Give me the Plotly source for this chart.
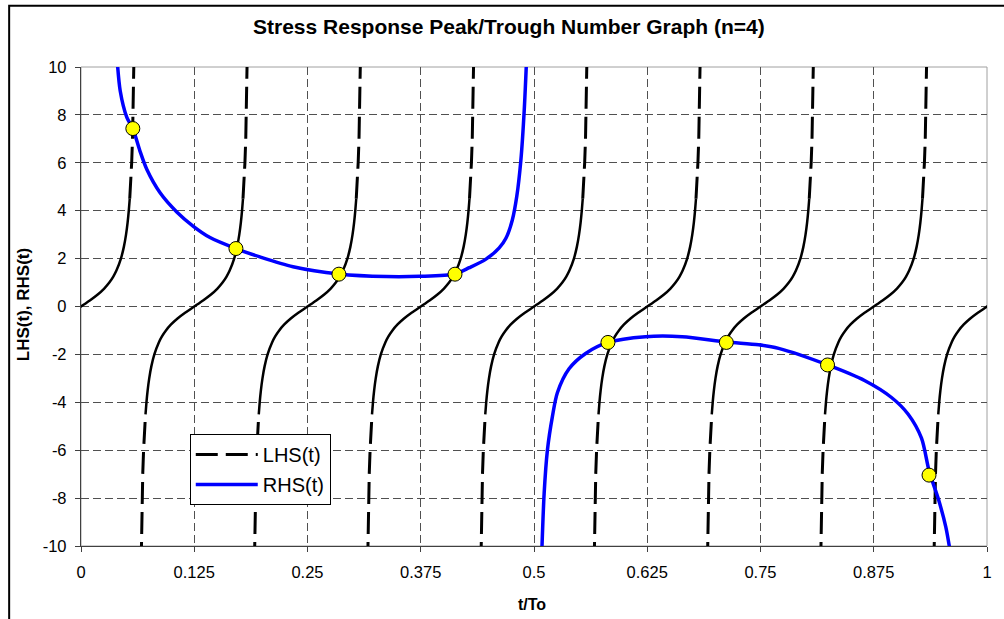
import plotly.graph_objects as go

# ---------------- data ----------------
# LHS(t): eight identical tan-like branches, centred on these t values
lhs_centers = [0.0, 0.125, 0.25, 0.375, 0.5, 0.625, 0.75, 0.875, 1.0]
# one branch: offset from its centre (t) and value, middle (solid-looking) part
lhs_mid_dt = [-0.05380, -0.05275, -0.05143, -0.04970, -0.04736, -0.04405, -0.03910,
              -0.03565, -0.03125, -0.02560, -0.01845, -0.00975, 0.0, 0.00975, 0.01845,
              0.02560, 0.03125, 0.03565, 0.03910, 0.04405, 0.04736, 0.04970, 0.05143,
              0.05275, 0.05380]
lhs_mid_v = [-4.5, -4.0, -3.5, -3.0, -2.5, -2.0, -1.5, -1.25, -1.0, -0.75, -0.5, -0.25,
             0.0, 0.25, 0.5, 0.75, 1.0, 1.25, 1.5, 2.0, 2.5, 3.0, 3.5, 4.0, 4.5]
# steep (dashed-looking) parts near the asymptotes
lhs_up_dt = [0.05380, 0.05465, 0.05593, 0.05685, 0.05755, 0.05810, 0.05853, 0.05919]
lhs_up_v = [4.5, 5.0, 6.0, 7.0, 8.0, 9.0, 10.0, 12.0]
lhs_dn_dt = [-0.05919, -0.05853, -0.05810, -0.05755, -0.05685, -0.05593, -0.05465, -0.05380]
lhs_dn_v = [-12.0, -10.0, -9.0, -8.0, -7.0, -6.0, -5.0, -4.5]

# RHS(t): two branches
rhs1_t = [0.0395, 0.0433, 0.0506, 0.0572, 0.0650, 0.0727, 0.0873, 0.1057, 0.1240, 0.1424,
          0.1710, 0.1974, 0.2340, 0.2847, 0.3369, 0.3736, 0.4128, 0.4286, 0.4470, 0.4616,
          0.4690, 0.4760, 0.4810, 0.4855, 0.4892, 0.4920]
rhs1_v = [10.5, 9.0, 7.9, 7.43, 6.5, 5.72, 4.75, 3.95, 3.35, 2.88,
          2.42, 2.07, 1.66, 1.36, 1.25, 1.26, 1.36, 1.62, 1.98, 2.45,
          2.85, 3.6, 4.6, 6.1, 8.19, 10.5]
rhs2_t = [0.5084, 0.5112, 0.5148, 0.5203, 0.5258, 0.5387, 0.5570, 0.5816, 0.6230, 0.6635,
          0.7123, 0.7480, 0.7700, 0.8240, 0.8653, 0.8946, 0.9130, 0.9277, 0.9363, 0.9460,
          0.9545, 0.9605]
rhs2_v = [-10.5, -7.8, -6.0, -4.6, -3.6, -2.6, -1.96, -1.50, -1.26, -1.26,
          -1.48, -1.60, -1.75, -2.44, -3.10, -3.80, -4.50, -5.50, -6.90, -8.00,
          -9.20, -10.5]

# intersection points
pts_t = [0.0572, 0.1710, 0.2847, 0.4128, 0.5816, 0.7123, 0.8240, 0.9360]
pts_v = [7.43, 2.42, 1.35, 1.35, -1.50, -1.50, -2.44, -7.04]

x_ticks = [0, 0.125, 0.25, 0.375, 0.5, 0.625, 0.75, 0.875, 1]
x_labels = ["0", "0.125", "0.25", "0.375", "0.5", "0.625", "0.75", "0.875", "1"]
y_ticks = [-10, -8, -6, -4, -2, 0, 2, 4, 6, 8, 10]
y_labels = ["-10", "-8", "-6", "-4", "-2", "0", "2", "4", "6", "8", "10"]

# ---------------- build traces ----------------
def branches(dts, vs):
    xs, ys = [], []
    for c in lhs_centers:
        xs += [c + d for d in dts] + [None]
        ys += list(vs) + [None]
    return xs, ys

mid_x, mid_y = branches(lhs_mid_dt, lhs_mid_v)
up_x, up_y = branches(lhs_up_dt, lhs_up_v)
dn_x, dn_y = branches(lhs_dn_dt, lhs_dn_v)
steep_x = up_x + dn_x
steep_y = up_y + dn_y

FONT = "Arial, 'Liberation Sans', sans-serif"

fig = go.Figure()
fig.add_trace(go.Scatter(x=steep_x, y=steep_y, mode="lines", name="LHS(t)",
                         line=dict(color="black", width=3, dash="22px,8px"),
                         legendgroup="lhs", showlegend=True, connectgaps=False))
fig.add_trace(go.Scatter(x=mid_x, y=mid_y, mode="lines", name="LHS(t)",
                         line=dict(color="black", width=2.5, shape="spline", smoothing=0.6),
                         legendgroup="lhs", showlegend=False, connectgaps=False))
fig.add_trace(go.Scatter(x=rhs1_t + [None] + rhs2_t, y=rhs1_v + [None] + rhs2_v,
                         mode="lines", name="RHS(t)",
                         line=dict(color="#0000FF", width=3.5, shape="spline", smoothing=0.8),
                         legendgroup="rhs", showlegend=True, connectgaps=False))
fig.add_trace(go.Scatter(x=pts_t, y=pts_v, mode="markers", showlegend=False,
                         marker=dict(size=14, color="#FFFF00",
                                     line=dict(color="black", width=1))))

W, H = 1004, 619
L, R, T, B = 81, 15, 67, 73
pw, ph = W - L - R, H - T - B

def px(x):
    return (x - L) / pw

def py(y):
    return (H - B - y) / ph

axis_common = dict(showgrid=True, gridcolor="#505050", griddash="8px,4px", gridwidth=1,
                   showline=True, linecolor="#404040", linewidth=1.3,
                   ticks="outside", ticklen=5, tickcolor="#404040", tickwidth=1,
                   zeroline=False, tickfont=dict(family=FONT, size=16.5, color="black"))

fig.update_layout(
    width=W, height=H,
    margin=dict(l=L, r=R, t=T, b=B),
    paper_bgcolor="white", plot_bgcolor="white",
    font=dict(family=FONT, color="black"),
    xaxis=dict(range=[0, 1], tickvals=x_ticks, ticktext=x_labels,
               ticklabelstandoff=6, **axis_common),
    yaxis=dict(range=[-10, 10], tickvals=y_ticks, ticktext=y_labels,
               ticklabelstandoff=5, **axis_common),
    legend=dict(x=px(190), y=py(434), xanchor="left", yanchor="top",
                bgcolor="white", bordercolor="black", borderwidth=1,
                font=dict(family=FONT, size=20, color="black"),
                tracegroupgap=1, itemwidth=62),
    shapes=[
        dict(type="rect", xref="paper", yref="paper", x0=0, x1=1, y0=0, y1=1,
             line=dict(color="#A0A0A0", width=1), layer="below"),
        dict(type="rect", xref="paper", yref="paper", x0=px(9), x1=px(1012),
             y0=py(625), y1=py(5.7), line=dict(color="black", width=2), layer="above"),
    ],
    annotations=[
        dict(text="<b>Stress Response Peak/Trough Number Graph (n=4)</b>",
             xref="paper", yref="paper", x=px(509.5), y=py(26), xanchor="center",
             yanchor="middle", showarrow=False, font=dict(family=FONT, size=21)),
        dict(text="<b>LHS(t), RHS(t)</b>", textangle=-90,
             xref="paper", yref="paper", x=px(23), y=py(305), xanchor="center",
             yanchor="middle", showarrow=False, font=dict(family=FONT, size=17)),
        dict(text="<b>t/To</b>",
             xref="paper", yref="paper", x=px(533), y=py(604), xanchor="center",
             yanchor="middle", showarrow=False, font=dict(family=FONT, size=16)),
    ],
)

fig.write_html("out.html")
